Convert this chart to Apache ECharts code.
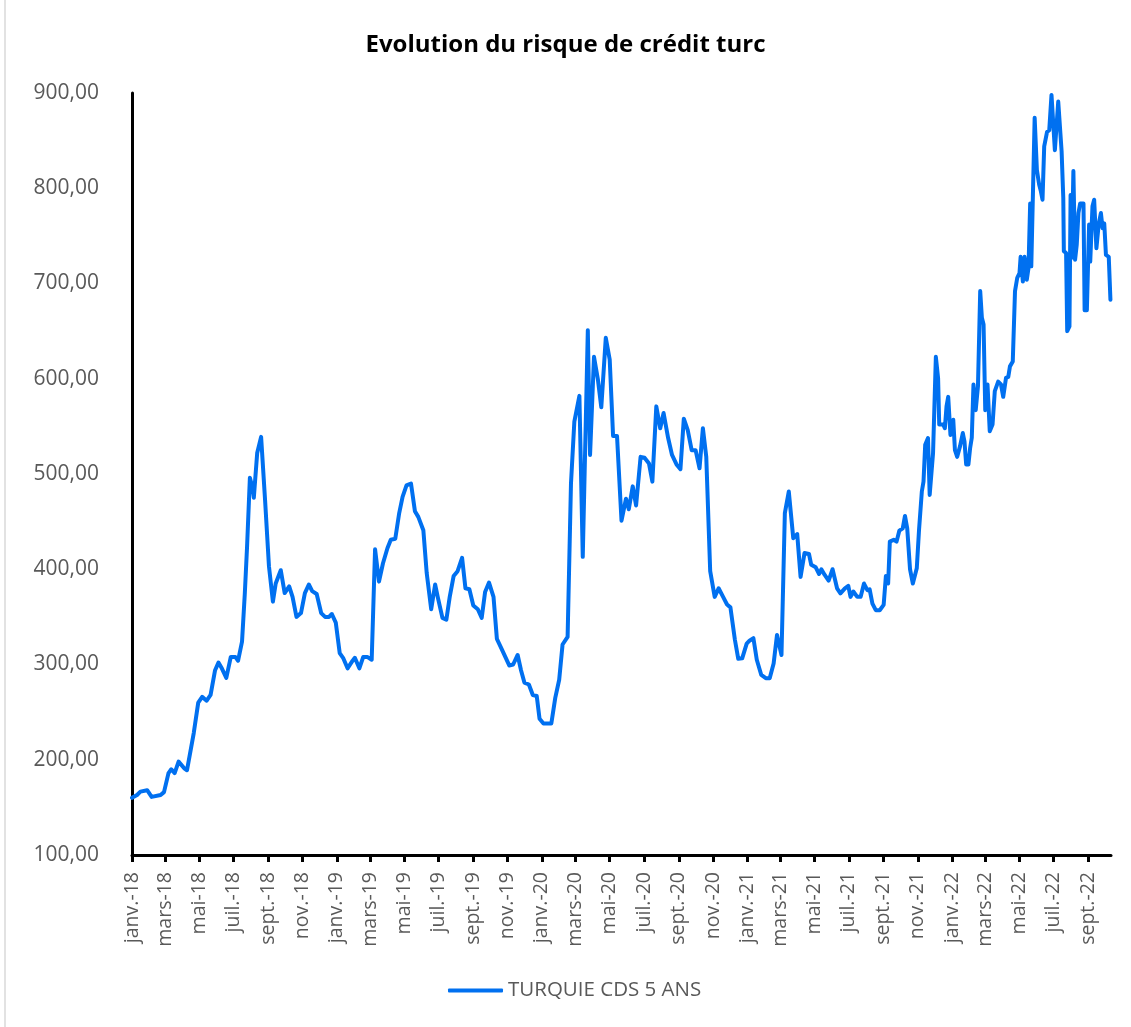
<!DOCTYPE html>
<html>
<head>
<meta charset="utf-8">
<title>Evolution du risque de crédit turc</title>
<script src="https://cdn.jsdelivr.net/npm/echarts@6/dist/echarts.min.js"></script>
<style>
  html, body { margin: 0; padding: 0; background: #ffffff; }
  #chart { width: 1131px; height: 1027px; }
</style>
</head>
<body>
<div id="chart"></div>
<script>
// Turkish 5-year CDS spread (bp), observation dates and levels
const obsDates = [
  '2018-01-01','2018-01-10','2018-01-16','2018-01-28','2018-02-05','2018-02-21','2018-02-27','2018-03-07',
  '2018-03-12','2018-03-18','2018-03-25','2018-04-04','2018-04-09','2018-04-21','2018-04-29','2018-05-06',
  '2018-05-14','2018-05-21','2018-05-29','2018-06-04','2018-06-10','2018-06-18','2018-06-26','2018-07-04',
  '2018-07-09','2018-07-16','2018-07-21','2018-07-25','2018-07-30','2018-08-04','2018-08-06','2018-08-12',
  '2018-08-19','2018-08-26','2018-09-02','2018-09-09','2018-09-14','2018-09-23','2018-09-30','2018-10-08',
  '2018-10-14','2018-10-21','2018-10-29','2018-11-05','2018-11-12','2018-11-18','2018-11-26','2018-12-04',
  '2018-12-11','2018-12-18','2018-12-23','2018-12-30',
  '2019-01-06','2019-01-12','2019-01-20','2019-01-29','2019-02-02','2019-02-10','2019-02-17','2019-02-24',
  '2019-03-04','2019-03-10','2019-03-17','2019-03-24','2019-04-01','2019-04-07','2019-04-15','2019-04-22',
  '2019-04-28','2019-05-05','2019-05-13','2019-05-20','2019-05-26','2019-06-04','2019-06-10','2019-06-18',
  '2019-06-25','2019-06-30','2019-07-08','2019-07-15','2019-07-21','2019-07-28','2019-08-04','2019-08-12',
  '2019-08-18','2019-08-25','2019-09-01','2019-09-09','2019-09-16','2019-09-22','2019-09-29','2019-10-07',
  '2019-10-13','2019-10-21','2019-10-28','2019-11-04','2019-11-11','2019-11-19','2019-11-25','2019-12-01',
  '2019-12-09','2019-12-16','2019-12-23','2019-12-28',
  '2020-01-04','2020-01-18','2020-01-25','2020-02-01','2020-02-07','2020-02-16','2020-02-22','2020-02-28',
  '2020-03-08','2020-03-14','2020-03-23','2020-03-27','2020-04-03','2020-04-10','2020-04-16','2020-04-24',
  '2020-05-01','2020-05-07','2020-05-14','2020-05-22','2020-05-30','2020-06-04','2020-06-11','2020-06-17',
  '2020-06-25','2020-07-02','2020-07-10','2020-07-16','2020-07-23','2020-07-30','2020-08-05','2020-08-13',
  '2020-08-20','2020-08-28','2020-09-04','2020-09-10','2020-09-17','2020-09-24','2020-10-01','2020-10-08',
  '2020-10-14','2020-10-20','2020-10-27','2020-11-04','2020-11-11','2020-11-19','2020-11-26','2020-12-02',
  '2020-12-10','2020-12-16','2020-12-23','2020-12-31',
  '2021-01-05','2021-01-12','2021-01-18','2021-01-26','2021-02-03','2021-02-10','2021-02-17','2021-02-23',
  '2021-03-03','2021-03-09','2021-03-16','2021-03-24','2021-03-31','2021-04-06','2021-04-13','2021-04-21',
  '2021-04-25','2021-05-03','2021-05-09','2021-05-13','2021-05-19','2021-05-26','2021-06-02','2021-06-10',
  '2021-06-16','2021-06-24','2021-06-30','2021-07-04','2021-07-09','2021-07-16','2021-07-22','2021-07-28',
  '2021-08-03','2021-08-07','2021-08-12','2021-08-18','2021-08-25','2021-09-01','2021-09-05','2021-09-09',
  '2021-09-12','2021-09-19','2021-09-24','2021-09-29','2021-10-05','2021-10-09','2021-10-13','2021-10-18',
  '2021-10-23','2021-10-30','2021-11-03','2021-11-08','2021-11-11','2021-11-14','2021-11-19','2021-11-22',
  '2021-11-28','2021-12-03','2021-12-07','2021-12-09','2021-12-16','2021-12-19','2021-12-22','2021-12-25',
  '2021-12-29',
  '2022-01-03','2022-01-06','2022-01-10','2022-01-15','2022-01-20','2022-01-23','2022-01-26','2022-01-30',
  '2022-02-02','2022-02-05','2022-02-08','2022-02-12','2022-02-16','2022-02-20','2022-02-23','2022-02-26',
  '2022-03-01','2022-03-05','2022-03-09','2022-03-14','2022-03-18','2022-03-24','2022-03-29','2022-04-02',
  '2022-04-07','2022-04-11','2022-04-14','2022-04-19','2022-04-23','2022-04-27','2022-05-01','2022-05-03',
  '2022-05-07','2022-05-10','2022-05-14','2022-05-17','2022-05-20','2022-05-22','2022-05-28','2022-06-01',
  '2022-06-05','2022-06-08','2022-06-11','2022-06-14','2022-06-17','2022-06-19','2022-06-23','2022-06-27',
  '2022-07-03','2022-07-09','2022-07-15','2022-07-18','2022-07-19','2022-07-23','2022-07-25','2022-07-29',
  '2022-07-31','2022-08-02','2022-08-05','2022-08-08','2022-08-11','2022-08-14','2022-08-17','2022-08-20',
  '2022-08-23','2022-08-25','2022-08-29','2022-09-02','2022-09-04','2022-09-08','2022-09-11','2022-09-15',
  '2022-09-19','2022-09-23','2022-09-26','2022-09-29','2022-10-02','2022-10-07','2022-10-10'
];

const cdsValues = [
  160,163,166.5,168,161,163,166,186,
  190,186,198,191,189,228,260,266,
  262,268,294,302,296,286,308,308,
  304,324,375,424,496,485,475,522,
  539,473,403,366,385,399,375,382,
  371,350,354,375,384,377,374,354,
  350,350,353,344,
  312,307,296,304,307,296,308,308,
  305,421,387,406,422,431,432,459,
  476,488,490,461,455,441,396,358,
  384,370,349,347,371,393,398,412,
  380,379,362,358,349,376,386,371,
  327,317,308,299,300,310,294,281,
  279,268,267,243,
  238,238,265,284,321,329,490,555,
  582,413,651,520,623,599,570,643,
  620,540,540,451,474,463,487,467,
  518,517,511,492,571,548,564,538,
  520,510,505,558,546,525,525,506,
  548,518,398,371,380,371,363,360,
  326,306,306.5,322,
  325,327.6,305,289,285.6,285.6,301,331,
  310,459,481.6,432.6,437,392,417,416,
  404.6,402,395,400,394,388,400,380,
  374.7,380,382.6,371,376.6,371,371,385,
  378,379,364,357,357,362.6,393,385,
  429,431,429,440.6,443,456,443,400,
  385,401,441,481.6,492,530.7,537.7,478,
  522,623,600.6,552,552,548,571,581,
  541,
  557,525,518,529,543,534,510,510,
  527,538,594,567,592,692,664,657,
  567,594,545,552,587,597,594,581,
  601,602,613,618,692,706,711,728,
  702,728,704,716,784,718,874,819,
  804,797,788,844,845,859,861,898,
  840,891,839,790,734,732,650,655,
  793,727,818,725,741,774,784,783,
  784,672,672,762,723,781,788,737,
  762,774,758,763,730,728,683
];

// Axis labels, one every two months
const tickLabels = [
  'janv.-18','mars-18','mai-18','juil.-18','sept.-18','nov.-18',
  'janv.-19','mars-19','mai-19','juil.-19','sept.-19','nov.-19',
  'janv.-20','mars-20','mai-20','juil.-20','sept.-20','nov.-20',
  'janv.-21','mars-21','mai-21','juil.-21','sept.-21','nov.-21',
  'janv.-22','mars-22','mai-22','juil.-22','sept.-22'
];
const axisStart = '2018-01-01';
const axisEnd = '2022-10-11';
const seriesName = 'TURQUIE CDS 5 ANS';
const chartTitle = 'Evolution du risque de crédit turc';

// parse an ISO day as a local-midnight timestamp
function toTime(iso) {
  const p = iso.split('-').map(Number);
  return new Date(p[0], p[1] - 1, p[2]).getTime();
}

// month-start timestamps for each label (January 2018 onward, step of two months)
const tickTimes = tickLabels.map(function (_, i) {
  const m = i * 2;
  return new Date(2018 + Math.floor(m / 12), m % 12, 1).getTime();
});

const seriesData = obsDates.map(function (d, i) { return [toTime(d), cdsValues[i]]; });

const fontFamily = '"Open Sans", "Noto Sans", sans-serif';
const chart = echarts.init(document.getElementById('chart'), null, { renderer: 'canvas' });

chart.setOption({
  animation: false,
  backgroundColor: '#ffffff',
  title: {
    text: chartTitle,
    left: 'center',
    top: 28,
    textStyle: { fontFamily: fontFamily, fontSize: 24, fontWeight: 'bold', color: '#000000' }
  },
  // thin light frame along the left edge of the chart area
  graphic: [{
    type: 'line',
    shape: { x1: 5, y1: 0, x2: 5, y2: 1027 },
    style: { stroke: '#d9d9d9', lineWidth: 1.5 },
    silent: true
  }],
  grid: { left: 132, right: 20, top: 93, bottom: 172, containLabel: false },
  legend: {
    bottom: 21,
    left: 443,
    icon: 'roundRect',
    itemWidth: 55,
    itemHeight: 4,
    itemGap: 6,
    textStyle: { fontFamily: fontFamily, fontSize: 20.5, color: '#595959' },
    data: [seriesName]
  },
  xAxis: {
    type: 'value',
    min: toTime(axisStart),
    max: toTime(axisEnd),
    splitLine: { show: false },
    axisLine: { show: true, onZero: false, lineStyle: { color: '#000000', width: 3 } },
    axisTick: {
      show: true,
      length: 7,
      lineStyle: { color: '#000000', width: 3 },
      customValues: tickTimes
    },
    axisLabel: {
      customValues: tickTimes,
      rotate: 90,
      margin: 17,
      fontFamily: fontFamily,
      fontSize: 19.5,
      color: '#595959',
      formatter: function (value) {
        const idx = tickTimes.indexOf(value);
        return idx >= 0 ? tickLabels[idx] : '';
      }
    }
  },
  yAxis: {
    type: 'value',
    min: 100,
    max: 900,
    interval: 100,
    splitLine: { show: false },
    axisLine: { show: true, onZero: false, lineStyle: { color: '#000000', width: 3 } },
    axisTick: { show: false },
    axisLabel: {
      margin: 33,
      fontFamily: fontFamily,
      fontSize: 21,
      color: '#595959',
      formatter: function (v) { return v.toFixed(2).replace('.', ','); }
    }
  },
  series: [{
    name: seriesName,
    type: 'line',
    data: seriesData,
    symbol: 'none',
    color: '#0070f0',
    lineStyle: { width: 4, color: '#0070f0', cap: 'round', join: 'round' }
  }]
});
</script>
</body>
</html>
